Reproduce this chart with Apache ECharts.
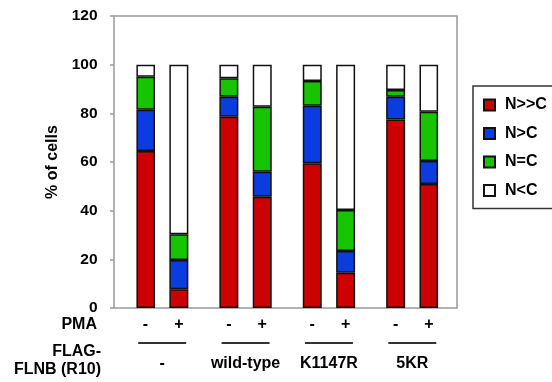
<!DOCTYPE html>
<html>
<head>
<meta charset="utf-8">
<script src="https://cdn.jsdelivr.net/npm/echarts@6/dist/echarts.min.js"></script>
<style>
  html, body { margin: 0; padding: 0; background: #fff; }
  #chart { width: 552px; height: 382px; }
</style>
</head>
<body>
<div id="chart"></div>
<script>
// values, one entry per bar (left to right)
const groups = ['-', 'wild-type', 'K1147R', '5KR']
const pma = ['-', '+', '-', '+', '-', '+', '-', '+']
const seriesNames = ['N>>C', 'N>C', 'N=C', 'N<C']
const nMuchC = [64.5, 7.7, 78.6, 45.7, 59.5, 14.5, 77.5, 51]
const nMoreC = [17, 12, 8.2, 10.3, 23.6, 8.9, 9.3, 9.4]
const nEqC = [13.5, 10.6, 7.6, 26.7, 10.2, 16.9, 2.8, 20.3]
const nLessC = [5, 69.7, 5.6, 17.3, 6.7, 59.7, 10.4, 19.3]
const yMin = 0, yMax = 120, yStep = 20

// layout: bars sit in half-unit slots so groups get a wider gap
const slotCount = 18
const barSlots = [0, 2, 5, 7, 10, 12, 15, 17]
const groupSlots = [1, 6, 11, 16]
const colors = ['#cc0000', '#0a3ce0', '#17c400', '#ffffff']
const font = '"Liberation Sans", Arial, Helvetica, sans-serif'

const spread = function (vals, slots) {
  const out = new Array(slotCount).fill('-')
  slots.forEach((s, i) => { out[s] = vals[i] })
  return out
}
const slotLabels = new Array(slotCount).fill('')
barSlots.forEach((s, i) => { slotLabels[s] = pma[i] })
const groupLabels = new Array(slotCount).fill('')
groupSlots.forEach((s, i) => { groupLabels[s] = groups[i] })

const chart = echarts.init(document.getElementById('chart'))

const series = [nMuchC, nMoreC, nEqC, nLessC].map((vals, i) => ({
  name: seriesNames[i],
  type: 'bar',
  stack: 'cells',
  xAxisIndex: 1,
  yAxisIndex: 1,
  barWidth: 19,
  data: spread(vals, barSlots),
  itemStyle: { color: colors[i], borderColor: '#111', borderWidth: 1.5 }
}))

chart.setOption({
  animation: false,
  textStyle: { fontFamily: font, fontWeight: 'bold', color: '#000' },
  grid: [
    { left: 114, top: 16, right: 95, bottom: 74, show: true, borderColor: '#999', borderWidth: 1.5 },
    { left: 137.16, right: 114.66, top: 16, bottom: 74 }
  ],
  xAxis: [
    { gridIndex: 0, type: 'value', min: 0, max: 1, show: false },
    {
      gridIndex: 1, type: 'category', data: slotLabels,
      axisLine: { show: false }, axisTick: { show: false }, splitLine: { show: false },
      axisLabel: { interval: 0, margin: 9, fontSize: 16, fontWeight: 'bold', color: '#000', fontFamily: font }
    },
    {
      gridIndex: 1, type: 'category', data: groupLabels, position: 'bottom',
      axisLine: { show: false }, axisTick: { show: false }, splitLine: { show: false },
      axisLabel: {
        interval: 0, margin: 34, color: '#000',
        formatter: v => v === '' ? '' : '{ln| }\n{g|' + v + '}',
        rich: {
          ln: { width: 48, height: 2, lineHeight: 2, backgroundColor: '#333', fontSize: 1 },
          g: { fontSize: 16, fontWeight: 'bold', lineHeight: 39, fontFamily: font, color: '#000' }
        }
      }
    }
  ],
  yAxis: [
    {
      gridIndex: 0, type: 'value', min: yMin, max: yMax, interval: yStep, offset: 3.5,
      axisLine: { show: false },
      axisTick: { show: true, length: 4, lineStyle: { color: '#999', width: 1.5 } },
      splitLine: { show: false },
      axisLabel: { margin: 13, fontSize: 15.5, fontWeight: 'bold', color: '#000', fontFamily: font },
      name: '% of cells', nameLocation: 'middle', nameGap: 45, nameRotate: 90,
      nameTextStyle: { fontSize: 16, fontWeight: 'bold', color: '#000', fontFamily: font }
    },
    { gridIndex: 1, type: 'value', min: yMin, max: yMax, show: false }
  ],
  legend: {
    orient: 'vertical', left: 473, top: 86,
    padding: [11, 40, 10, 10], itemGap: 12.5,
    itemWidth: 11, itemHeight: 11, icon: 'rect',
    borderColor: '#333', borderWidth: 1.5,
    data: seriesNames,
    textStyle: { fontSize: 16, fontWeight: 'bold', color: '#000', fontFamily: font, padding: [0, 0, 0, 5] }
  },
  graphic: [
    { type: 'text', x: 97, y: 325, style: { text: 'PMA', font: 'bold 16px ' + font, fill: '#000', align: 'right', verticalAlign: 'middle' } },
    { type: 'text', x: 101, y: 352, style: { text: 'FLAG-', font: 'bold 16px ' + font, fill: '#000', align: 'right', verticalAlign: 'middle' } },
    { type: 'text', x: 101, y: 370, style: { text: 'FLNB (R10)', font: 'bold 16px ' + font, fill: '#000', align: 'right', verticalAlign: 'middle' } }
  ],
  series
})
</script>
</body>
</html>
